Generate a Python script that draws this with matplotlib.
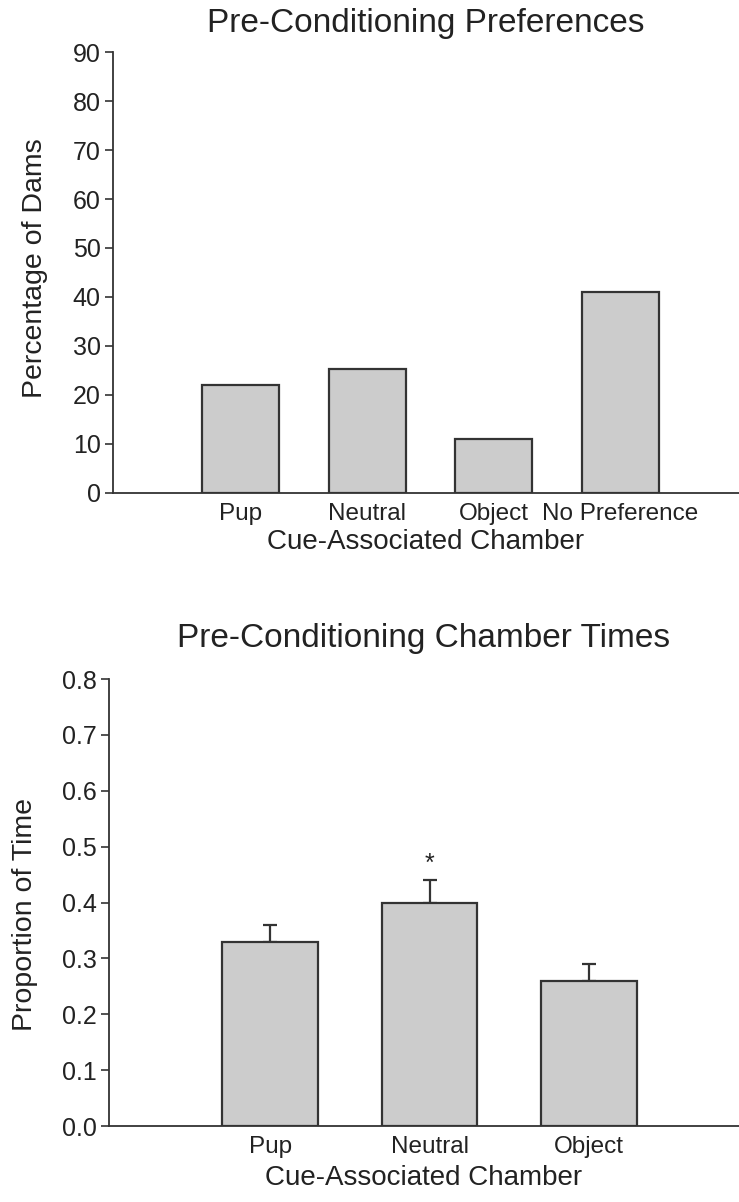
import matplotlib
matplotlib.use("Agg")
import matplotlib.pyplot as plt

plt.rcParams['font.family'] = ['Liberation Sans', 'DejaVu Sans']

# top panel data
pref_cats = ["Pup", "Neutral", "Object", "No Preference"]
pref_vals = [22, 25.3, 11, 41]

# bottom panel data
time_cats = ["Pup", "Neutral", "Object"]
time_vals = [0.33, 0.40, 0.26]
time_err = [0.03, 0.04, 0.03]
star_cat = "Neutral"

bar_face = "#cccccc"
bar_edge = "#333333"
txt = "#222222"

fig = plt.figure(figsize=(7.39, 12.02), dpi=100)

def style(ax):
    for s in ["top", "right"]:
        ax.spines[s].set_visible(False)
    for s in ["left", "bottom"]:
        ax.spines[s].set_color(bar_edge)
        ax.spines[s].set_linewidth(1.3)
    ax.tick_params(axis="y", direction="out", length=6, width=1.2, color=bar_edge,
                   labelsize=18, labelcolor=txt, pad=3)
    ax.tick_params(axis="x", length=0, labelsize=17.5, labelcolor=txt, pad=7)

# --- top: Pre-Conditioning Preferences
ax1 = fig.add_axes([0.153, 0.5899, 0.847, 0.3668])
x1 = list(range(len(pref_cats)))
ax1.bar(x1, pref_vals, width=0.61, color=bar_face, edgecolor=bar_edge, linewidth=1.6)
ax1.set_xlim(-1.01, 3.94)
ax1.set_ylim(0, 90)
ax1.set_yticks(range(0, 91, 10))
ax1.set_xticks(x1)
ax1.set_xticklabels(pref_cats)
style(ax1)
ax1.set_ylabel("Percentage of Dams", fontsize=20.5, color=txt)
ax1.yaxis.set_label_coords(-0.104, 0.51)
ax1.set_xlabel("Cue-Associated Chamber", fontsize=20, color=txt, labelpad=3)
ax1.text(0.5, 1.0 + 29 / 441, "Pre-Conditioning Preferences", transform=ax1.transAxes,
         ha="center", va="center", fontsize=24, color=txt)

# --- bottom: Pre-Conditioning Chamber Times
ax2 = fig.add_axes([0.1475, 0.0632, 0.8525, 0.3719])
x2 = list(range(len(time_cats)))
ax2.bar(x2, time_vals, width=0.6, color=bar_face, edgecolor=bar_edge, linewidth=1.6, zorder=2)
ax2.errorbar(x2, time_vals, yerr=[[0] * len(time_err), time_err], fmt="none",
             ecolor=bar_edge, elinewidth=1.6, capsize=5, capthick=1.6, zorder=1)
si = time_cats.index(star_cat)
ax2.text(si, time_vals[si] + time_err[si] + 0.03, "*", ha="center", va="center",
         fontsize=18, color=txt)
ax2.set_xlim(-1.01, 2.94)
ax2.set_ylim(0, 0.8)
ax2.set_yticks([i / 10 for i in range(9)])
ax2.set_yticklabels([f"{i / 10:.1f}" for i in range(9)])
ax2.set_xticks(x2)
ax2.set_xticklabels(time_cats)
style(ax2)
ax2.set_ylabel("Proportion of Time", fontsize=20.5, color=txt)
ax2.yaxis.set_label_coords(-0.113, 0.474)
ax2.set_xlabel("Cue-Associated Chamber", fontsize=20, color=txt, labelpad=5)
ax2.text(0.5, 1.0 + 41 / 447, "Pre-Conditioning Chamber Times", transform=ax2.transAxes,
         ha="center", va="center", fontsize=24, color=txt)

fig.savefig("out.png", dpi=100)
